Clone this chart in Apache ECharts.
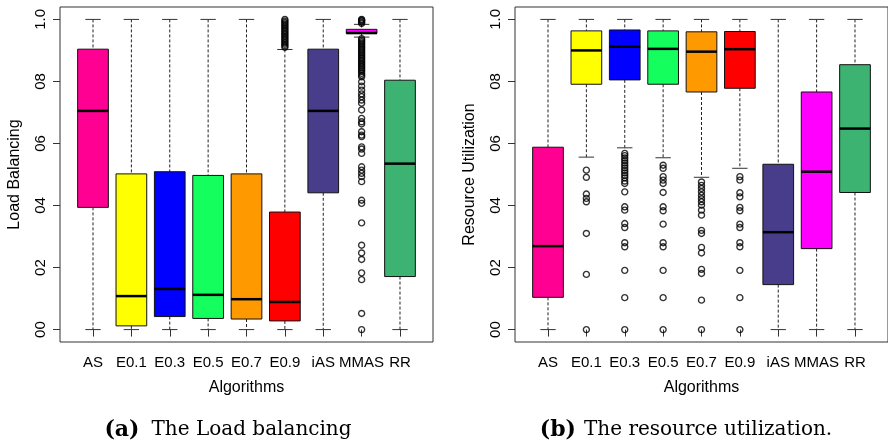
<!DOCTYPE html>
<html>
<head>
<meta charset="utf-8">
<script src="https://cdn.jsdelivr.net/npm/echarts@6/dist/echarts.min.js"></script>
<style>
html,body{margin:0;padding:0;background:#fff}
#chart{width:888px;height:445px}
</style>
</head>
<body>
<div id="chart"></div>
<script>
// categories and tick labels
const categories = ['AS', 'E0.1', 'E0.3', 'E0.5', 'E0.7', 'E0.9', 'iAS', 'MMAS', 'RR']
const yTickValues = [0, 0.2, 0.4, 0.6, 0.8, 1.0]
const yTickLabels = ['00', '02', '04', '06', '08', '1.0']

// (a) load balancing: [lower whisker, q1, median, q3, upper whisker]
const lbBoxes = [
    [0, 0.394, 0.705, 0.904, 1],
    [0, 0.012, 0.108, 0.502, 1],
    [0, 0.042, 0.131, 0.509, 1],
    [0, 0.036, 0.112, 0.497, 1],
    [0, 0.034, 0.098, 0.502, 1],
    [0, 0.028, 0.089, 0.379, 0.903],
    [0, 0.441, 0.705, 0.904, 1],
    [0.943, 0.955, 0.956, 0.968, 0.984],
    [0, 0.171, 0.535, 0.804, 1]
]
const lbOutliers = [
    [], [], [], [], [],
    [0.91, 0.915, 0.92, 0.925, 0.93, 0.935, 0.94, 0.945, 0.95, 0.955, 0.96, 0.965, 0.97, 0.975, 0.98, 0.985, 0.99, 0.995, 1.0],
    [],
    [0.987, 0.991, 0.995, 0.998, 1.0,
     0.938, 0.933, 0.928, 0.923, 0.918, 0.913, 0.908, 0.903, 0.898, 0.893, 0.888, 0.883, 0.878, 0.873, 0.868, 0.863,
     0.858, 0.853, 0.848, 0.843, 0.838, 0.833, 0.826, 0.82, 0.815, 0.799, 0.785, 0.772, 0.76, 0.751, 0.74, 0.73,
     0.708, 0.681, 0.67, 0.663, 0.638, 0.627, 0.622, 0.589, 0.582, 0.568, 0.525, 0.514, 0.504, 0.493, 0.477,
     0.417, 0.407, 0.344, 0.272, 0.247, 0.226, 0.183, 0.161, 0.052, 0],
    []
]

// (b) resource utilization
const ruBoxes = [
    [0, 0.104, 0.269, 0.588, 1],
    [0.556, 0.791, 0.900, 0.963, 1],
    [0.586, 0.805, 0.912, 0.966, 1],
    [0.554, 0.791, 0.905, 0.963, 1],
    [0.491, 0.766, 0.896, 0.960, 1],
    [0.520, 0.778, 0.904, 0.961, 1],
    [0, 0.145, 0.314, 0.533, 1],
    [0, 0.261, 0.509, 0.766, 1],
    [0, 0.442, 0.648, 0.854, 1]
]
const ruOutliers = [
    [],
    [0.514, 0.491, 0.437, 0.423, 0.412, 0.31, 0.178, 0],
    [0.568, 0.561, 0.553, 0.545, 0.537, 0.529, 0.521, 0.513, 0.505, 0.497, 0.489, 0.479, 0.471, 0.444,
     0.396, 0.385, 0.342, 0.329, 0.28, 0.267, 0.191, 0.103, 0],
    [0.53, 0.52, 0.493, 0.482, 0.471, 0.442, 0.396, 0.383, 0.34, 0.28, 0.267, 0.191, 0.103, 0],
    [0.476, 0.465, 0.455, 0.444, 0.433, 0.422, 0.412, 0.401, 0.385, 0.369, 0.32, 0.31, 0.265, 0.247, 0.194, 0.181, 0.095, 0],
    [0.493, 0.482, 0.441, 0.428, 0.394, 0.383, 0.34, 0.329, 0.28, 0.267, 0.191, 0.103, 0],
    [], [], []
]

const boxColors = ['#FF0092', '#FFFF00', '#0000FF', '#14FF5E', '#FF9900', '#FF0000', '#483D8B', '#FF00FF', '#3CB371']
const font = 'Liberation Sans, Arial, Helvetica, sans-serif'

// outer frame (R draws 4% beyond the data range on each side)
const frame = {top: 7, width: 373, height: 335}
const band = frame.width / 9.72
const padX = band * 0.36
const padY = frame.height * 0.04 / 1.08

function boxData(boxes){
    return boxes.map((b, i) => [i].concat(b))
}
function outlierData(out){
    let res = []
    out.forEach((list, i) => list.forEach(v => res.push([i, v])))
    return res
}

function renderBox(params, api){
    let i = api.value(0)
    let pLo = api.coord([i, api.value(1)])
    let pQ1 = api.coord([i, api.value(2)])
    let pMed = api.coord([i, api.value(3)])
    let pQ3 = api.coord([i, api.value(4)])
    let pHi = api.coord([i, api.value(5)])
    let half = api.size([1, 0])[0] * 0.4
    let cap = half / 2
    let x = pMed[0]
    let wStyle = {stroke: '#222', lineWidth: 1, lineDash: [3, 2]}
    let cStyle = {stroke: '#333', lineWidth: 1}
    return {
        type: 'group',
        children: [
            {type: 'line', shape: {x1: x, y1: pHi[1], x2: x, y2: pQ3[1]}, style: wStyle},
            {type: 'line', shape: {x1: x, y1: pQ1[1], x2: x, y2: pLo[1]}, style: wStyle},
            {type: 'line', shape: {x1: x - cap, y1: pHi[1], x2: x + cap, y2: pHi[1]}, style: cStyle},
            {type: 'line', shape: {x1: x - cap, y1: pLo[1], x2: x + cap, y2: pLo[1]}, style: cStyle},
            {type: 'rect', shape: {x: x - half, y: pQ3[1], width: half * 2, height: pQ1[1] - pQ3[1]},
                style: {fill: boxColors[params.dataIndex], stroke: '#111', lineWidth: 1}},
            {type: 'line', shape: {x1: x - half, y1: pMed[1], x2: x + half, y2: pMed[1]},
                style: {stroke: '#000', lineWidth: 2.5}}
        ]
    }
}

function makeGrid(left){
    return {left: left + padX, top: frame.top + padY, width: band * 9, height: frame.height - 2 * padY,
        outerBoundsMode: 'none', containLabel: false}
}
function makeX(idx){
    return {
        gridIndex: idx, type: 'category', data: categories, boundaryGap: true, offset: padY,
        axisLine: {show: false}, splitLine: {show: false},
        axisTick: {show: true, length: 7, alignWithLabel: true, lineStyle: {color: '#333'}},
        axisLabel: {interval: 0, fontSize: 15, color: '#000', margin: 13, fontFamily: font},
        name: 'Algorithms', nameLocation: 'middle', nameGap: 38,
        nameTextStyle: {fontSize: 16, color: '#000', fontFamily: font}
    }
}
function makeY(idx, name){
    return {
        gridIndex: idx, type: 'value', min: 0, max: 1, interval: 0.2, offset: padX,
        axisLine: {show: false}, splitLine: {show: false},
        axisTick: {show: true, length: 7, lineStyle: {color: '#333'}},
        axisLabel: {rotate: 90, margin: 12,
            formatter: v => yTickLabels[yTickValues.findIndex(t => Math.abs(t - v) < 1e-6)],
            fontSize: 15, color: '#000', fontFamily: font},
        name: name, nameLocation: 'middle', nameGap: 37,
        nameTextStyle: {fontSize: 16, color: '#000', fontFamily: font}
    }
}
function frameRect(left){
    return {type: 'rect', z: 10, silent: true,
        shape: {x: left, y: frame.top, width: frame.width, height: frame.height},
        style: {fill: 'none', stroke: '#333', lineWidth: 1}}
}

let myChart = echarts.init(document.getElementById('chart'))
let option = {
    animation: false,
    backgroundColor: '#fff',
    grid: [makeGrid(60), makeGrid(515)],
    xAxis: [makeX(0), makeX(1)],
    yAxis: [makeY(0, 'Load Balancing'), makeY(1, 'Resource Utilization')],
    series: [
        {type: 'custom', xAxisIndex: 0, yAxisIndex: 0, data: boxData(lbBoxes), renderItem: renderBox,
            encode: {x: 0, y: [1, 2, 3, 4, 5]}, clip: false},
        {type: 'scatter', xAxisIndex: 0, yAxisIndex: 0, data: outlierData(lbOutliers), symbol: 'circle', symbolSize: 6,
            itemStyle: {color: 'transparent', borderColor: '#000', borderWidth: 1.4}, z: 3, clip: false},
        {type: 'custom', xAxisIndex: 1, yAxisIndex: 1, data: boxData(ruBoxes), renderItem: renderBox,
            encode: {x: 0, y: [1, 2, 3, 4, 5]}, clip: false},
        {type: 'scatter', xAxisIndex: 1, yAxisIndex: 1, data: outlierData(ruOutliers), symbol: 'circle', symbolSize: 6,
            itemStyle: {color: 'transparent', borderColor: '#000', borderWidth: 1.4}, z: 3, clip: false}
    ],
    graphic: [
        frameRect(60),
        frameRect(515),
        {type: 'text', x: 228, y: 430, style: {
            text: '{b|(a)}{r|The Load balancing}', align: 'center', verticalAlign: 'middle',
            rich: {
                b: {fontFamily: 'DejaVu Serif', fontWeight: 'bold', fontSize: 22, fill: '#000', padding: [0, 12, 0, 0]},
                r: {fontFamily: 'DejaVu Serif', fontSize: 20, fill: '#000'}
            }}},
        {type: 'text', x: 686, y: 430, style: {
            text: '{b|(b)}{r|The resource utilization.}', align: 'center', verticalAlign: 'middle',
            rich: {
                b: {fontFamily: 'DejaVu Serif', fontWeight: 'bold', fontSize: 22, fill: '#000', padding: [0, 8, 0, 0]},
                r: {fontFamily: 'DejaVu Serif', fontSize: 20, fill: '#000'}
            }}}
    ]
}
myChart.setOption(option)
</script>
</body>
</html>
